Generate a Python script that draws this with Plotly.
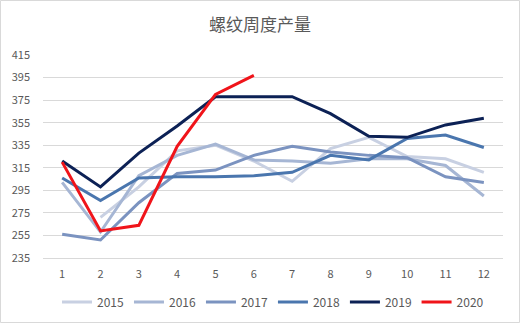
import plotly.graph_objects as go

weeks = [1, 2, 3, 4, 5, 6, 7, 8, 9, 10, 11, 12]
y2015 = [None, 271, 298, 330, 335, 321, 303, 332, 342, 325, 323, 311]
y2016 = [302, 258, 308, 326, 336, 322, 321, 319, 323, 323, 317, 290]
y2017 = [256, 251, 284, 310, 313, 326, 334, 329, 326, 324, 307, 302]
y2018 = [306, 286, 306, 307, 307, 308, 311, 326, 322, 341, 344, 333]
y2019 = [321, 298, 328, 352, 378, 378, 378, 363, 343, 342, 353, 359]
y2020 = [320, 259, 264, 334, 380, 397]

series = [
    ("2015", y2015, "#c8d0e2"),
    ("2016", y2016, "#a6b6d4"),
    ("2017", y2017, "#7b93c0"),
    ("2018", y2018, "#4a76ae"),
    ("2019", y2019, "#0c2155"),
    ("2020", y2020, "#f0141a"),
]

fig = go.Figure()
for name, vals, color in series:
    fig.add_trace(go.Scatter(
        x=weeks[:len(vals)], y=vals, name=name, mode="lines",
        line=dict(color=color, width=3), connectgaps=False,
    ))

font_color = "#595959"
fig.update_layout(
    width=520, height=323,
    margin=dict(l=43, r=17, t=55, b=65, autoexpand=False),
    paper_bgcolor="white", plot_bgcolor="white",
    font=dict(family="Noto Sans CJK SC, Liberation Sans, sans-serif", color=font_color, size=11),
    title=dict(text="螺纹周度产量", x=0.5, xanchor="center", y=0.922, yanchor="middle",
               font=dict(size=17, color=font_color)),
    showlegend=True,
    legend=dict(orientation="h", x=0.5, xanchor="center", yref="container", y=0.065, yanchor="middle",
                font=dict(size=12, color=font_color), itemwidth=30, tracegroupgap=0),
    xaxis=dict(range=[0.5, 12.5], tickmode="array", tickvals=weeks,
               ticktext=[str(w) for w in weeks], showgrid=False, zeroline=False,
               showline=True, linecolor="#d9d9d9", ticks="", ticklabelstandoff=6,
               tickfont=dict(size=11, color=font_color)),
    yaxis=dict(range=[235, 415], tickmode="array", tickvals=list(range(235, 416, 20)),
               showgrid=True, gridcolor="#d9d9d9", gridwidth=1, zeroline=False,
               showline=False, ticks="", ticklabelstandoff=12,
               tickfont=dict(size=11, color=font_color)),
)
fig.add_shape(type="rect", xref="paper", yref="paper",
              x0=-42.5/460, x1=1 + 16.5/460, y0=-64.5/203, y1=1 + 54.5/203,
              line=dict(color="#d9d9d9", width=1), fillcolor="rgba(0,0,0,0)", layer="below")
fig.write_html("out.html")
